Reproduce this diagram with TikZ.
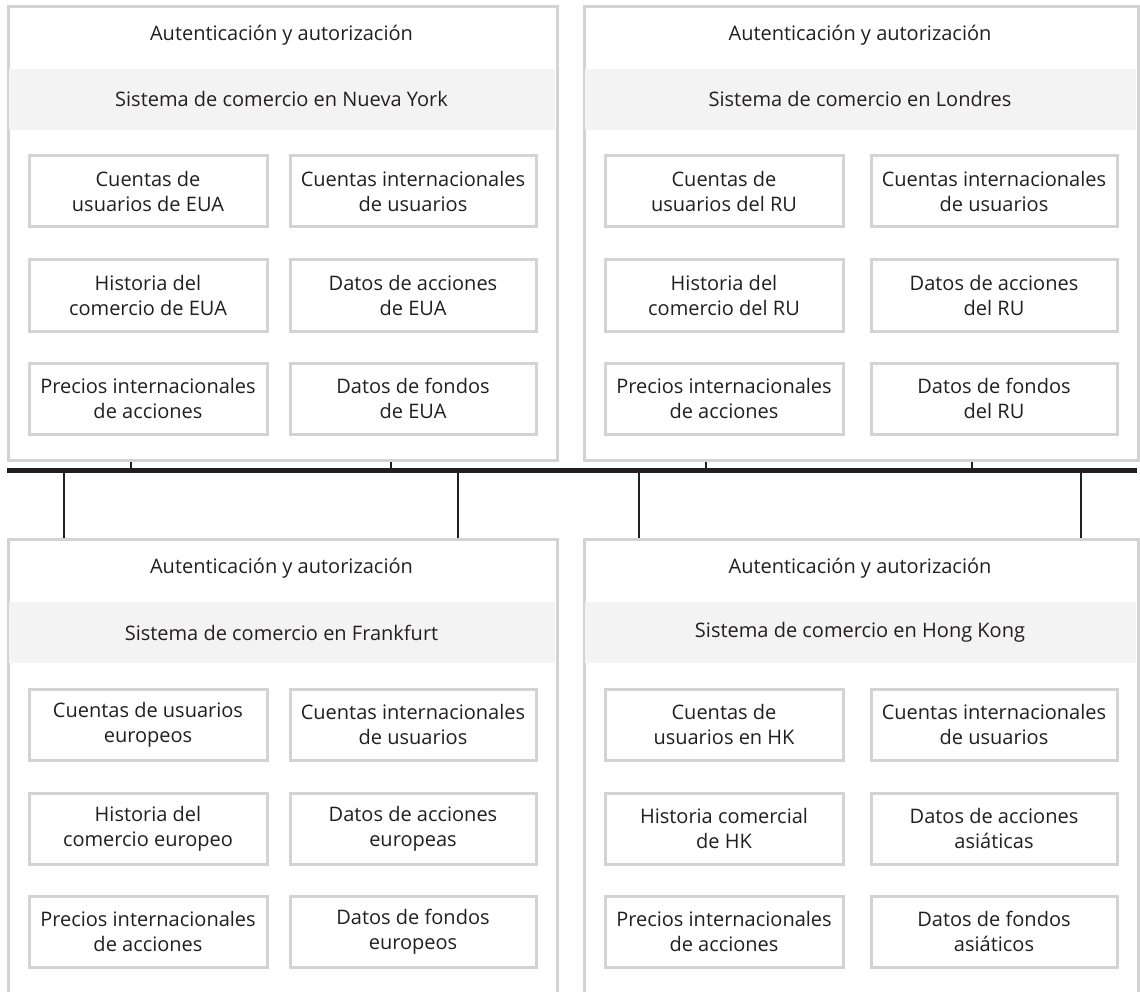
\documentclass[tikz,border=0pt]{standalone}
\usepackage{fontspec}
\setmainfont{Open Sans}
\usetikzlibrary{positioning}
\definecolor{boxgray}{HTML}{D3D3D3}
\definecolor{bandgray}{HTML}{F3F3F3}
\definecolor{ink}{HTML}{231F20}

\begin{document}
\begin{tikzpicture}[x=1pt,y=-1pt,font=\fontsize{20}{25}\selectfont,text=ink,
    panel/.style={draw=boxgray,line width=3pt,fill=white,anchor=north west,inner sep=0pt},
    band/.style={fill=bandgray,inner sep=0pt,minimum height=61pt},
    cell/.style={draw=boxgray,line width=3pt,fill=white,align=center,inner sep=0pt,minimum height=71pt},
    bus/.style={draw=ink,line width=5pt},
    tap/.style={draw=ink,line width=2.2pt}]
  \useasboundingbox (0,0) rectangle (1140,992);
  \clip (0,0) rectangle (1140,992);
  % the four trading systems
  \foreach \x/\y/\w/\h/\id/\city/\ta/\tb/\tc/\td/\te/\tf in {
      7/5/549/454/ny/Nueva York/{Cuentas de\\usuarios de EUA}/{Cuentas internacionales\\de usuarios}/{Historia del\\comercio de EUA}/{Datos de acciones\\de EUA}/{Precios internacionales\\de acciones}/{Datos de fondos\\de EUA},
      583/5/554/454/ldn/Londres/{Cuentas de\\usuarios del RU}/{Cuentas internacionales\\de usuarios}/{Historia del\\comercio del RU}/{Datos de acciones\\del RU}/{Precios internacionales\\de acciones}/{Datos de fondos\\del RU},
      7/538/549/480/fra/Frankfurt/{Cuentas de usuarios\\europeos}/{Cuentas internacionales\\de usuarios}/{Historia del\\comercio europeo}/{Datos de acciones\\europeas}/{Precios internacionales\\de acciones}/{Datos de fondos\\europeos},
      583/538/554/480/hk/Hong Kong/{Cuentas de\\usuarios en HK}/{Cuentas internacionales\\de usuarios}/{Historia comercial\\de HK}/{Datos de acciones\\asiáticas}/{Precios internacionales\\de acciones}/{Datos de fondos\\asiáticos}} {
    \pgfmathsetmacro{\bw}{\w-3}
    \node[panel,minimum width=\w pt,minimum height=\h pt] (\id) at (\x,\y) {};
    \node (\id-auth) at (\x+\w/2,\y+30) {Autenticación y autorización};
    \node[band,minimum width=\bw pt] (\id-sys) at (\x+\w/2,\y+94.5) {Sistema de comercio en \city};
    \node[cell,minimum width=238pt] (\id-a) at (\x+141,\y+186.5) {\ta};
    \node[cell,minimum width=246pt] (\id-b) at (\x+\w-143,\y+186.5) {\tb};
    \node[cell,minimum width=238pt] (\id-c) at (\x+141,\y+290.5) {\tc};
    \node[cell,minimum width=246pt] (\id-d) at (\x+\w-143,\y+290.5) {\td};
    \node[cell,minimum width=238pt] (\id-e) at (\x+141,\y+393.5) {\te};
    \node[cell,minimum width=246pt] (\id-f) at (\x+\w-143,\y+393.5) {\tf};
  }
  % network bus
  \coordinate (busL) at (7,470);
  \coordinate (busR) at (1137,470);
  \draw[bus] (busL) -- (busR);
  \foreach \p/\t in {ny/131, ny/391, ldn/706, ldn/972} {
    \coordinate (tap-\t) at (\t,470);
    \draw[tap] (\p.south -| tap-\t) -- (tap-\t);
  }
  \foreach \p/\t in {fra/64, fra/458, hk/639, hk/1081} {
    \coordinate (tap-\t) at (\t,470);
    \draw[tap] (tap-\t) -- (\p.north -| tap-\t);
  }
\end{tikzpicture}
\end{document}
